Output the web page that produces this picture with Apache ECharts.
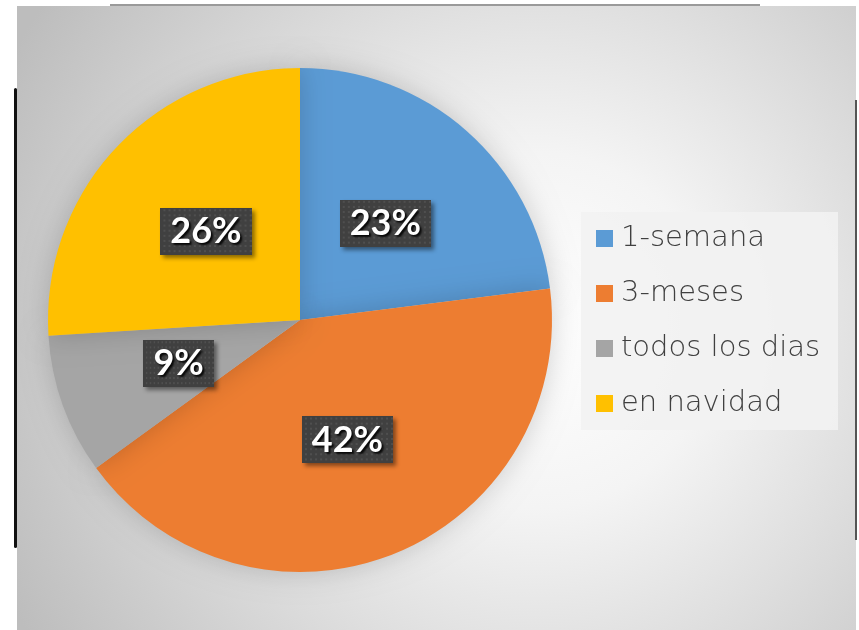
<!DOCTYPE html>
<html><head><meta charset="utf-8">
<script src="https://cdn.jsdelivr.net/npm/echarts@6/dist/echarts.min.js"></script>
<style>html,body{margin:0;padding:0;background:#fff}#c{width:859px;height:630px}</style>
</head><body><div id="c"></div>
<script>
const categories = ['1-semana', '3-meses', 'todos los dias', 'en navidad'];
const values = [23, 42, 9, 26];
const colors = ['#5B9BD5', '#ED7D31', '#A5A5A5', '#FFC000'];

function dotPattern(w, h) {
  const c = document.createElement('canvas');
  c.width = w; c.height = h;
  const g = c.getContext('2d');
  g.fillStyle = '#404040'; g.fillRect(0, 0, w, h);
  g.fillStyle = '#4f4f4f';
  for (let y = 1; y < h; y += 5) for (let x = 1; x < w; x += 5) g.fillRect(x + ((y / 5) % 2 ? 2 : 0), y, 2, 2);
  return c;
}
const pat = dotPattern(90, 46);

const chart = echarts.init(document.getElementById('c'));
chart.setOption({
  animation: false,
  graphic: [
    { type: 'rect', z: -10, shape: { x: 17, y: 6, width: 839, height: 624 },
      style: { fill: { type: 'radial', x: 0.62, y: 0.52, r: 0.95,
        colorStops: [{ offset: 0, color: '#ffffff' }, { offset: 0.3, color: '#f4f4f4' }, { offset: 1, color: '#bdbdbd' }] } } },
    { type: 'rect', z: -9, shape: { x: 110, y: 4, width: 650, height: 2 }, style: { fill: '#9a9a9a' } },
    { type: 'rect', z: -9, shape: { x: 14, y: 88, width: 3, height: 460, r: 1.5 }, style: { fill: '#111' } },
    { type: 'rect', z: -9, shape: { x: 855, y: 100, width: 2, height: 440 }, style: { fill: '#555' } }
  ],
  legend: {
    orient: 'vertical', left: 581, top: 212,
    padding: [12, 18, 12, 15],
    backgroundColor: 'rgba(242,242,242,0.9)',
    icon: 'rect', itemWidth: 17, itemHeight: 17, itemGap: 26,
    data: categories,
    textStyle: { fontFamily: 'DejaVu Sans', fontWeight: 200, fontSize: 29, color: '#404040', padding: [0, 0, 0, 3] }
  },
  series: [{
    type: 'pie', center: [300, 320], radius: 252, startAngle: 90, clockwise: true,
    avoidLabelOverlap: false,
    itemStyle: { shadowBlur: 28, shadowColor: 'rgba(0,0,0,0.18)' },
    label: {
      show: true, position: 'inside',
      formatter: p => p.value + '%',
      fontFamily: 'Lato', fontWeight: 'bold', fontSize: 36, color: '#fff',
      textShadowColor: 'rgba(0,0,0,0.9)', textShadowBlur: 2, textShadowOffsetX: 2, textShadowOffsetY: 2,
      backgroundColor: { image: pat }, padding: [7, 10, 4, 10],
      shadowColor: 'rgba(0,0,0,0.45)', shadowBlur: 4, shadowOffsetX: 3, shadowOffsetY: 3
    },
    labelLine: { show: false },
    emphasis: { disabled: true },
    data: categories.map((n, i) => ({ name: n, value: values[i], itemStyle: { color: colors[i] } }))
  }]
});
</script></body></html>
